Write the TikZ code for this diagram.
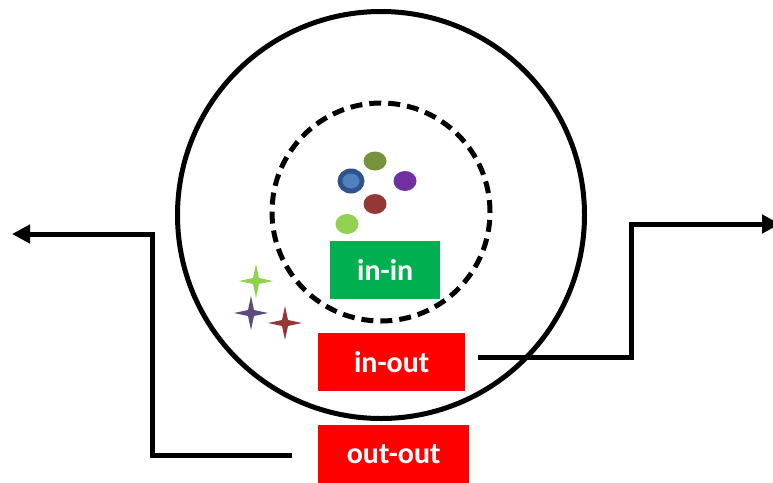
\documentclass[tikz,border=0pt]{standalone}
\usepackage{fontspec}
\setmainfont{Carlito}
\usetikzlibrary{arrows.meta,shapes.geometric}
\definecolor{boxgreen}{HTML}{00B050}
\definecolor{boxred}{HTML}{FF0000}
\definecolor{olivedot}{HTML}{77933C}
\definecolor{bluedark}{HTML}{2F528F}
\definecolor{bluelight}{HTML}{4F81BD}
\definecolor{purpledot}{HTML}{7030A0}
\definecolor{reddot}{HTML}{953735}
\definecolor{lgreen}{HTML}{92D050}
\definecolor{starpurple}{HTML}{604A7B}
\tikzset{
  labelbox/.style={draw=none, text=white, font=\bfseries\fontsize{30}{34}\selectfont, inner sep=0pt, anchor=north west},
  wire/.style={line width=5pt},
  dot/.style={ellipse, draw=none, inner sep=0pt},
}
\newcommand{\fourstar}[3]{%
  \fill[#3] (#1,#2) ++(0,-17) -- ++(3,14) -- ++(14,3) -- ++(-14,3) -- ++(-3,14) -- ++(-3,-14) -- ++(-14,-3) -- ++(14,-3) -- cycle;}
\begin{document}
\begin{tikzpicture}[x=1pt,y=-1pt]
\useasboundingbox (0,0) rectangle (773,482);
\node[circle, draw, line width=5pt, minimum size=407pt, inner sep=0pt] (outer) at (381,215) {};
\node[circle, draw, line width=5pt, dash pattern=on 12pt off 7pt, minimum size=218pt, inner sep=0pt] (inner) at (381,212) {};
% dots
\node[dot, fill=olivedot, minimum width=23pt, minimum height=19pt] (d1) at (375,161) {};
\node[dot, fill=bluedark, minimum width=27pt, minimum height=25pt] (d2) at (351,181) {};
\node[dot, fill=bluelight, minimum width=17pt, minimum height=15pt] (d2i) at (351,181) {};
\node[dot, fill=purpledot, minimum width=23pt, minimum height=20pt] (d3) at (405,181) {};
\node[dot, fill=reddot, minimum width=23pt, minimum height=20pt] (d4) at (375,204) {};
\node[dot, fill=lgreen, minimum width=23pt, minimum height=20pt] (d5) at (347,224) {};
% stars
\fourstar{256}{281}{lgreen}
\fourstar{251}{313}{starpurple}
\fourstar{285}{323}{reddot}
% boxes
\node[labelbox, fill=boxgreen, minimum width=110pt, minimum height=58pt] (inin) at (330,241) {in-in};
\node[labelbox, fill=boxred, minimum width=147pt, minimum height=58pt] (inout) at (318,333) {in-out};
\node[labelbox, fill=boxred, minimum width=151pt, minimum height=58pt] (outout) at (318,425) {out-out};
% connectors
\coordinate (r0) at ([xshift=13pt]inout.east |- 0,357);
\coordinate (r1) at (631,357);
\coordinate (r2) at (631,224);
\coordinate (r3) at (780,224);
\draw[wire, -{Triangle[length=18pt,width=18pt]}] (r0) -- (r1) -- (r2) -- (r3);
\coordinate (l0) at (292,455);
\coordinate (l1) at (152,455);
\coordinate (l2) at (152,234);
\coordinate (l3) at (12,234);
\draw[wire, -{Triangle[length=18pt,width=18pt]}] (l0) -- (l1) -- (l2) -- (l3);
\end{tikzpicture}
\end{document}
